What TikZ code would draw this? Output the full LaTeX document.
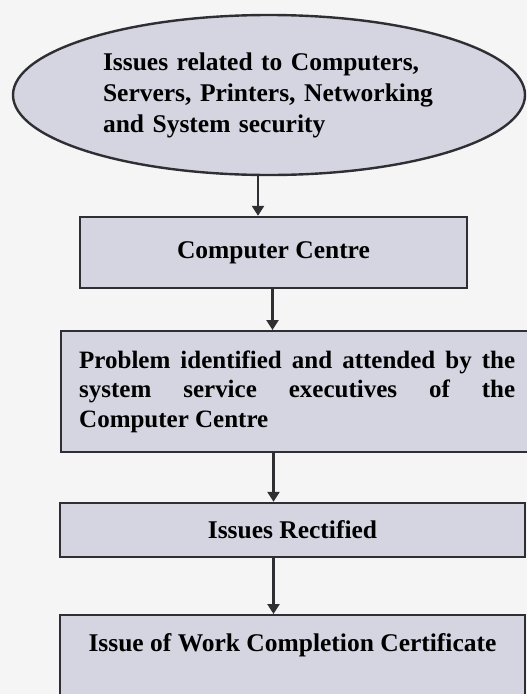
\documentclass[tikz,border=0pt]{standalone}
\usepackage{fontspec}
\setmainfont{Liberation Serif}
\usetikzlibrary{arrows.meta,shapes.geometric}
\definecolor{boxfill}{HTML}{D5D5E1}
\definecolor{bgcol}{HTML}{F5F5F5}
\definecolor{edge}{HTML}{2E2E33}
\tolerance=10000
\hyphenpenalty=10000
\tikzset{
  every node/.style={font=\bfseries\fontsize{25.5}{31}\selectfont},
  shapebox/.style={draw=edge,line width=2.4pt,fill=boxfill,inner sep=0pt},
  flowbox/.style={shapebox,rectangle,align=center},
  conn/.style={draw=edge,line width=2.4pt,-{Triangle[width=12pt,length=10pt]}}
}
\begin{document}
\begin{tikzpicture}[x=1pt,y=-1pt]
\useasboundingbox (0,0) rectangle (527,694);
\clip (0,0) rectangle (527,694);
\fill[bgcol] (0,0) rectangle (527,694);

\node[shapebox,ellipse,minimum width=512pt,minimum height=160pt,text width=332pt,align=left]
  (ell) at (269,95) {Issues related to Computers,\\Servers, Printers, Networking\\and System security};

\node[flowbox,minimum width=387pt,minimum height=71pt] (cc) at (273.5,252.5) {Computer Centre};

\node[shapebox,rectangle,anchor=north west,text width=436pt,inner xsep=18pt,inner ysep=0pt,
  minimum height=121pt,align=justify,font=\bfseries\fontsize{25}{29.5}\selectfont]
  (prob) at (60,330) {Problem identified and attended by the\linebreak system service executives of the\linebreak Computer Centre};

\node[flowbox,minimum width=465pt,minimum height=54pt] (rect) at (292.5,530) {Issues Rectified};

\node[flowbox,anchor=north,minimum width=465pt,text height=28pt,text depth=70pt,inner ysep=8pt]
  (cert) at (292.5,614) {Issue of Work Completion Certificate};

\draw[conn] ([xshift=-11pt]ell.south) -- ([xshift=-11pt]ell.south |- cc.north);
\draw[conn] ([xshift=-1pt]cc.south) -- ([xshift=-1pt]cc.south |- prob.north);
\draw[conn] ([xshift=-19pt]rect.north |- prob.south) -- ([xshift=-19pt]rect.north);
\draw[conn] ([xshift=-19pt]rect.south) -- ([xshift=-19pt]rect.south |- cert.north);
\end{tikzpicture}
\end{document}
